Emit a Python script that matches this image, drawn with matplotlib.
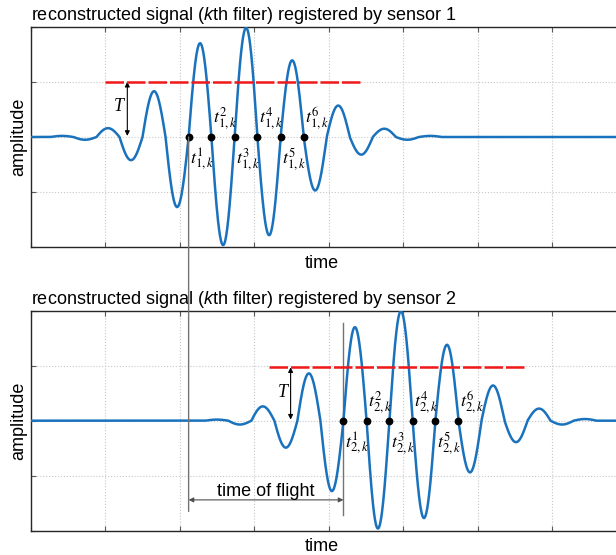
import numpy as np
import matplotlib.pyplot as plt
from matplotlib.patches import ConnectionPatch

plt.rcParams['font.family'] = ['Liberation Sans', 'DejaVu Sans']
plt.rcParams['mathtext.fontset'] = 'custom'
plt.rcParams['mathtext.rm'] = 'Liberation Sans'
plt.rcParams['mathtext.it'] = 'Liberation Sans:italic'

# sensor 1: zero crossings and the extrema between them
s1_cross = [0.266, 0.575, 0.884, 1.193, 1.502, 1.811, 2.121, 2.427, 2.738,
            3.044, 3.356, 3.666, 3.975, 4.284, 4.593, 4.902, 5.211, 5.520]
s1_peak_t = [0.421, 0.730, 1.039, 1.348, 1.657, 1.966, 2.275, 2.584, 2.893,
             3.202, 3.511, 3.820, 4.129, 4.438, 4.747, 5.056, 5.365]
s1_peak_a = [0.02, -0.05, 0.16, -0.42, 0.83, -1.27, 1.70, -1.96, 1.98,
             -1.78, 1.39, -0.97, 0.57, -0.32, 0.15, -0.05, 0.02]

# sensor 2
s2_cross = [2.345, 2.654, 2.963, 3.272, 3.581, 3.890, 4.199, 4.510, 4.816,
            5.128, 5.433, 5.743, 6.052, 6.361, 6.670, 6.979, 7.288, 7.598]
s2_peak_t = [2.500, 2.808, 3.117, 3.426, 3.735, 4.044, 4.353, 4.662, 4.971,
             5.280, 5.589, 5.898, 6.207, 6.516, 6.825, 7.134, 7.443]
s2_peak_a = [0.02, -0.07, 0.26, -0.49, 0.86, -1.28, 1.70, -1.96, 1.99,
             -1.77, 1.38, -0.94, 0.64, -0.39, 0.22, -0.07, 0.03]

# marked threshold crossings t^1..t^6 (indices into the crossing lists)
marked = [6, 7, 8, 9, 10, 11]

# threshold level T and the span of the dashed line
thr_level = [1.0, 0.97]
thr_start = [1.0, 3.197]
thr_end = [4.431, 6.631]
T_arrow_x = [1.298, 3.49]
T_label_pos = [(1.183, 0.545), (3.38, 0.52)]

T_END = 8.0
BLUE = '#1a72bd'
RED = '#f01818'


def wave_curve(cross, peak_t, peak_a):
    # quarter-wave arcs from each zero crossing up to the extremum and back
    ts = [np.array([0.0, cross[0]])]
    ys = [np.zeros(2)]
    for i, (tp, a) in enumerate(zip(peak_t, peak_a)):
        left = np.linspace(cross[i], tp, 40)
        right = np.linspace(tp, cross[i + 1], 40)
        ts += [left, right]
        ys += [a * np.sin(np.pi / 2 * (left - cross[i]) / (tp - cross[i])),
               a * np.cos(np.pi / 2 * (right - tp) / (cross[i + 1] - tp))]
    ts.append(np.array([cross[-1], T_END]))
    ys.append(np.zeros(2))
    return np.concatenate(ts), np.concatenate(ys)


fig = plt.figure(figsize=(6.16, 5.55), dpi=100)
ax1 = fig.add_axes([0.0497, 0.5544, 0.9675, 0.3975])
ax2 = fig.add_axes([0.0497, 0.0438, 0.9675, 0.3964])

panels = [(ax1, s1_cross, s1_peak_t, s1_peak_a, 1),
          (ax2, s2_cross, s2_peak_t, s2_peak_a, 2)]

for idx, (ax, cross, pt, pa, sensor) in enumerate(panels):
    t, y = wave_curve(cross, pt, pa)
    ax.plot(t, y, color=BLUE, lw=1.8, zorder=3)

    ax.plot([thr_start[idx], thr_end[idx]], [thr_level[idx]] * 2,
            color=RED, lw=1.8, linestyle=(0, (7.4, 1.2)), zorder=4)

    # threshold height arrow
    ax.annotate('', xy=(T_arrow_x[idx], thr_level[idx]),
                xytext=(T_arrow_x[idx], 0.02),
                arrowprops=dict(arrowstyle='<|-|>', color='k', lw=0.8,
                                mutation_scale=7, shrinkA=0, shrinkB=0))
    ax.text(*T_label_pos[idx], 'T', fontfamily='Liberation Serif',
            style='italic', fontsize=13, ha='center', va='center')

    dots = [cross[i] for i in marked]
    ax.plot(dots, np.zeros(len(dots)), 'o', color='k', ms=4.6, zorder=5)
    for n, tc in enumerate(dots, 1):
        label = r'$t^{%d}_{%d,k}$' % (n, sensor)
        if n % 2:
            ax.annotate(label, (tc, 0), xytext=(1.2, -7), textcoords='offset points',
                        ha='left', va='top', fontsize=13, math_fontfamily='stix')
        else:
            ax.annotate(label, (tc, 0), xytext=(1.2, 3.5), textcoords='offset points',
                        ha='left', va='bottom', fontsize=13, math_fontfamily='stix')

    ax.set_xlim(0, T_END)
    ax.set_ylim(-2, 2)
    ax.set_xticks(np.arange(0, T_END + 1))
    ax.set_yticks([-2, -1, 0, 1, 2])
    ax.grid(True, color='0.78', linestyle=':', lw=0.8)
    ax.set_axisbelow(True)
    ax.tick_params(direction='in', length=3.5, color='0.35', top=True, right=True,
                   labelleft=False, labelbottom=False)
    for sp in ax.spines.values():
        sp.set_color('0.15')
        sp.set_linewidth(1.0)

    ax.set_title('reconstructed signal ($k$th filter) registered by sensor %d' % sensor,
                 loc='left', fontsize=13, pad=5)
    ax.set_xlabel('time', fontsize=13)
    ax.xaxis.set_label_coords(0.489, -0.035)
    ax.set_ylabel('amplitude', fontsize=13)
    ax.yaxis.set_label_coords(-0.005, 0.5)

# time of flight between the first marked crossings of both sensors
t1 = s1_cross[marked[0]]
t2 = s2_cross[marked[0]]
fig.add_artist(ConnectionPatch(xyA=(t1, 0), coordsA=ax1.transData,
                               xyB=(t1, -1.65), coordsB=ax2.transData,
                               color='0.45', lw=1.0, zorder=2))
ax2.plot([t2, t2], [1.78, -1.71], color='0.45', lw=1.0, zorder=2, clip_on=False)
ax2.annotate('', xy=(t2, -1.44), xytext=(t1, -1.44),
             arrowprops=dict(arrowstyle='<|-|>', color='0.3', lw=0.8,
                             mutation_scale=7, shrinkA=0, shrinkB=0))
ax2.text((t1 + t2) / 2, -1.28, 'time of flight', fontsize=13,
         ha='center', va='center')

fig.savefig('out.png', dpi=100)
